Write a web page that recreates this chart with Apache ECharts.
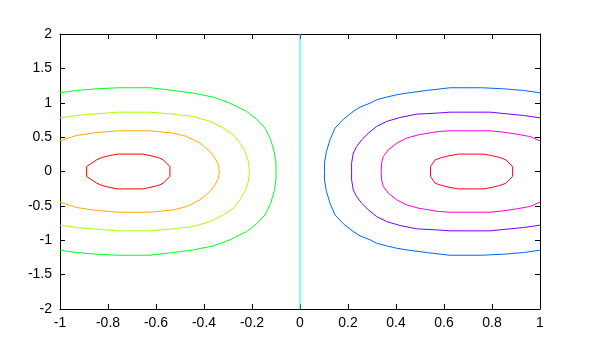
<!DOCTYPE html>
<html><head><meta charset="utf-8">
<script src="https://cdn.jsdelivr.net/npm/echarts@6/dist/echarts.min.js"></script>
<style>html,body{margin:0;padding:0;background:#fff}#c{width:600px;height:344px}</style>
</head><body><div id="c"></div><script>
// contour levels and traced contour lines (x, y)
const levels = [-0.4, -0.3, -0.2, -0.1, 0, 0.1, 0.2, 0.3, 0.4];

const lvlNeg04 = [[-0.889,0.072],[-0.847,0.17],[-0.826,0.203],[-0.792,0.232],[-0.761,0.253],[-0.655,0.253],[-0.625,0.232],[-0.59,0.203],[-0.57,0.17],[-0.542,0.072],[-0.542,-0.072],[-0.57,-0.17],[-0.59,-0.203],[-0.625,-0.232],[-0.655,-0.253],[-0.761,-0.253],[-0.792,-0.232],[-0.826,-0.203],[-0.847,-0.17],[-0.889,-0.072],[-0.889,0.072]];

const lvlNeg03 = [[-1,0.445],[-0.931,0.524],[-0.847,0.567],[-0.757,0.592],[-0.625,0.592],[-0.528,0.558],[-0.472,0.509],[-0.417,0.412],[-0.375,0.291],[-0.354,0.194],[-0.34,0.097],[-0.336,0],[-0.34,-0.097],[-0.354,-0.194],[-0.375,-0.291],[-0.417,-0.412],[-0.472,-0.509],[-0.528,-0.558],[-0.625,-0.592],[-0.757,-0.592],[-0.847,-0.567],[-0.931,-0.524],[-1,-0.445]];

const lvlNeg02 = [[-1,0.781],[-0.931,0.815],[-0.847,0.839],[-0.757,0.863],[-0.625,0.863],[-0.528,0.834],[-0.444,0.8],[-0.375,0.728],[-0.319,0.631],[-0.278,0.533],[-0.25,0.412],[-0.229,0.291],[-0.215,0.145],[-0.211,0],[-0.215,-0.145],[-0.229,-0.291],[-0.25,-0.412],[-0.278,-0.533],[-0.319,-0.631],[-0.375,-0.728],[-0.444,-0.8],[-0.528,-0.834],[-0.625,-0.863],[-0.757,-0.863],[-0.847,-0.839],[-0.931,-0.815],[-1,-0.781]];

const lvlNeg01 = [[-1,1.145],[-0.931,1.179],[-0.847,1.203],[-0.757,1.218],[-0.625,1.218],[-0.528,1.179],[-0.444,1.14],[-0.361,1.082],[-0.292,0.994],[-0.222,0.873],[-0.181,0.762],[-0.146,0.631],[-0.122,0.461],[-0.108,0.291],[-0.1,0.121],[-0.1,0],[-0.1,-0.121],[-0.108,-0.291],[-0.122,-0.461],[-0.146,-0.631],[-0.181,-0.762],[-0.222,-0.873],[-0.292,-0.994],[-0.361,-1.082],[-0.444,-1.14],[-0.528,-1.179],[-0.625,-1.218],[-0.757,-1.218],[-0.847,-1.203],[-0.931,-1.179],[-1,-1.145]];

const lvlZero = [[0,-2],[0,2]];

const lvlPos01 = [[1,1.145],[0.931,1.179],[0.847,1.203],[0.757,1.218],[0.625,1.218],[0.528,1.179],[0.444,1.14],[0.403,1.116],[0.361,1.082],[0.319,1.043],[0.292,0.994],[0.25,0.936],[0.222,0.873],[0.181,0.762],[0.146,0.631],[0.125,0.461],[0.11,0.291],[0.102,0.121],[0.102,0],[0.102,-0.121],[0.11,-0.291],[0.125,-0.461],[0.146,-0.631],[0.181,-0.762],[0.222,-0.873],[0.25,-0.936],[0.292,-0.994],[0.319,-1.043],[0.361,-1.082],[0.403,-1.116],[0.444,-1.14],[0.528,-1.179],[0.625,-1.218],[0.757,-1.218],[0.847,-1.203],[0.931,-1.179],[1,-1.145]];

const lvlPos02 = [[1,0.781],[0.931,0.815],[0.861,0.839],[0.792,0.863],[0.625,0.863],[0.569,0.849],[0.486,0.834],[0.417,0.786],[0.361,0.728],[0.319,0.655],[0.285,0.558],[0.257,0.461],[0.236,0.364],[0.222,0.267],[0.215,0.121],[0.215,0],[0.215,-0.121],[0.222,-0.267],[0.236,-0.364],[0.257,-0.461],[0.285,-0.558],[0.319,-0.655],[0.361,-0.728],[0.417,-0.786],[0.486,-0.834],[0.569,-0.849],[0.625,-0.863],[0.792,-0.863],[0.861,-0.839],[0.931,-0.815],[1,-0.781]];

const lvlPos03 = [[1,0.445],[0.958,0.509],[0.903,0.543],[0.847,0.572],[0.792,0.592],[0.625,0.592],[0.576,0.582],[0.493,0.533],[0.444,0.485],[0.403,0.412],[0.368,0.315],[0.347,0.218],[0.34,0.121],[0.338,0],[0.34,-0.121],[0.347,-0.218],[0.368,-0.315],[0.403,-0.412],[0.444,-0.485],[0.493,-0.533],[0.576,-0.582],[0.625,-0.592],[0.792,-0.592],[0.847,-0.572],[0.903,-0.543],[0.958,-0.509],[1,-0.445]];

const lvlPos04 = [[0.544,0.072],[0.563,0.17],[0.59,0.203],[0.625,0.232],[0.66,0.253],[0.764,0.253],[0.799,0.232],[0.833,0.203],[0.858,0.17],[0.886,0.072],[0.886,-0.072],[0.858,-0.17],[0.833,-0.203],[0.799,-0.232],[0.764,-0.253],[0.66,-0.253],[0.625,-0.232],[0.59,-0.203],[0.563,-0.17],[0.544,-0.072],[0.544,0.072]];

const contourLines = [lvlNeg04, lvlNeg03, lvlNeg02, lvlNeg01, lvlZero, lvlPos01, lvlPos02, lvlPos03, lvlPos04];
const xTickLabels = ['-1','-0.8','-0.6','-0.4','-0.2','0','0.2','0.4','0.6','0.8','1'];
const yTickLabels = ['-2','-1.5','-1','-0.5','0','0.5','1','1.5','2'];

const colors = ['#ff0000','#ffaa00','#aaff00','#00ff22','#00ffff','#0066ff','#7700ff','#ff00dd','#ff0022'];

const chart = echarts.init(document.getElementById('c'), null, {renderer:'canvas'});
const font = {fontFamily:'Liberation Sans, Arial, sans-serif', fontSize:14, color:'#000'};
const axLine = {show:true, onZero:false, lineStyle:{color:'#000', width:1}};
const tick = {show:true, inside:true, length:5, lineStyle:{color:'#000', width:1}};
function xFmt(v){ const i = Math.round((v + 1) / 0.2); return xTickLabels[i] ?? ''; }
function yFmt(v){ const i = Math.round((v + 2) / 0.5); return yTickLabels[i] ?? ''; }

chart.setOption({
  animation: false,
  backgroundColor: '#fff',
  grid: {left: 60, right: 60, top: 34, bottom: 35, containLabel: false},
  xAxis: [
    {type:'value', min:-1, max:1, interval:0.2, position:'bottom', axisLine:axLine, axisTick:tick,
     splitLine:{show:false}, axisLabel:Object.assign({margin:7, formatter:xFmt}, font)},
    {type:'value', min:-1, max:1, interval:0.2, position:'top', axisLine:axLine, axisTick:tick,
     splitLine:{show:false}, axisLabel:{show:false}}
  ],
  yAxis: [
    {type:'value', min:-2, max:2, interval:0.5, position:'left', axisLine:axLine, axisTick:tick,
     splitLine:{show:false}, axisLabel:Object.assign({margin:8, formatter:yFmt}, font)},
    {type:'value', min:-2, max:2, interval:0.5, position:'right', axisLine:axLine, axisTick:tick,
     splitLine:{show:false}, axisLabel:{show:false}}
  ],
  series: contourLines.map((pts, i) => ({
    type:'line', name:String(levels[i]), data:pts, xAxisIndex:0, yAxisIndex:0,
    showSymbol:false, symbol:'none', smooth:false, clip:true,
    lineStyle:{color:colors[i], width:1}, z: 1
  }))
});
</script></body></html>
